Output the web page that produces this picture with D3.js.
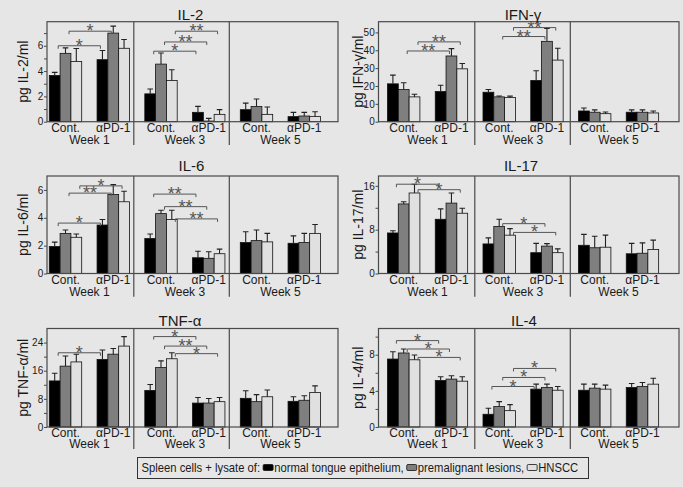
<!DOCTYPE html>
<html><head><meta charset="utf-8">
<script src="https://cdn.jsdelivr.net/npm/d3@7"></script>
<style>body{margin:0;background:#e6e6e6} svg{display:block;font-family:"Liberation Sans",Arial,sans-serif}</style>
</head><body><svg id="c" width="683" height="487"></svg>
<script>
// ---------- DATA ----------
const weeks = ["Week 1", "Week 3", "Week 5"];
const groups = ["Cont.", "αPD-1"];
const seriesNames = ["normal tongue epithelium", "premalignant lesions", "HNSCC"];
// order: W1 Cont(3), W1 αPD-1(3), W3 Cont, W3 αPD-1, W5 Cont, W5 αPD-1
const il2Mean = [3.65,5.4,4.75, 4.9,7.0,5.8, 2.2,4.55,3.25, 0.74,0.05,0.58, 0.95,1.2,0.58, 0.4,0.45,0.42];
const il2Sd   = [0.25,0.43,1.03, 0.72,0.55,0.69, 0.38,0.88,0.85, 0.47,0.21,0.37, 0.52,0.59,0.58, 0.34,0.29,0.37];
const ifnMean = [21.2,18.0,13.9, 16.9,36.8,29.6, 16.5,13.9,13.5, 23.1,45.0,34.5, 6.0,5.3,4.5, 5.3,5.3,4.9];
const ifnSd   = [4.9,3.8,1.5, 3.5,4.1,3.0, 1.5,0.5,0.8, 5.4,7.2,6.6, 1.7,1.3,0.9, 1.3,1.3,1.1];
const il6Mean = [1.94,2.88,2.6, 3.48,5.67,5.15, 2.51,4.3,3.88, 1.13,1.09,1.42, 2.22,2.36,2.27, 2.17,2.22,2.88];
const il6Sd   = [0.31,0.24,0.24, 0.4,0.71,0.76, 0.33,0.24,0.66, 0.47,0.47,0.33, 0.78,0.76,0.61, 0.53,0.66,0.64];
const il17Mean = [7.4,12.7,14.7, 9.9,12.85,11.0, 5.4,8.6,7.0, 3.8,5.0,3.8, 5.15,4.7,4.8, 3.6,3.7,4.4];
const il17Sd   = [0.4,0.4,1.6, 1.9,1.85,0.9, 1.1,1.3,1.2, 1.7,0.45,0.7, 2.0,2.1,2.2, 1.9,1.9,1.7];
const tnfMean = [13.1,17.3,18.5, 19.2,20.7,23.0, 10.4,16.9,19.4, 6.8,6.8,7.2, 8.15,7.2,8.6, 7.3,7.6,9.8];
const tnfSd   = [2.2,2.9,2.2, 2.7,1.6,2.7, 1.7,1.9,1.7, 1.6,1.3,1.2, 2.15,2.0,1.9, 1.3,1.3,1.9];
const il4Mean = [7.52,8.19,7.44, 5.15,5.3,5.07, 1.41,2.26,1.81, 4.19,4.37,4.07, 4.07,4.3,4.19, 4.37,4.48,4.74];
const il4Sd   = [0.81,0.44,0.52, 0.41,0.37,0.49, 0.66,0.55,0.67, 0.55,0.37,0.41, 0.67,0.44,0.44, 0.44,0.45,0.66];
// significance brackets: [week index, series index, y value, label]
const il2Sig  = [[0,0,6.0,"*"],[0,1,7.15,"*"],[1,0,5.57,"*"],[1,1,6.3,"**"],[1,2,7.15,"**"]];
const ifnSig  = [[0,1,39.6,"**"],[0,2,44.7,"**"],[1,1,47.7,"**"],[1,2,52.7,"**"]];
const il6Sig  = [[0,0,3.62,"*"],[0,1,5.77,"**"],[0,2,6.29,"*"],[1,0,5.7,"**"],[1,1,4.8,"**"],[1,2,3.92,"**"]];
const il17Sig = [[0,0,16.3,"*"],[0,2,15.3,"*"],[1,1,9.1,"*"],[1,2,7.5,"*"]];
const tnfSig  = [[0,0,21.1,"*"],[1,0,25.7,"*"],[1,1,23.0,"**"],[1,2,20.85,"*"]];
const il4Sig  = [[0,0,9.56,"*"],[0,1,8.63,"*"],[0,2,7.7,"*"],[1,0,4.48,"*"],[1,1,5.48,"*"],[1,2,6.48,"*"]];
// axes
const il2Ticks = [0,2,4,6],  il2Minor = [1,3,5,7];
const ifnTicks = [0,10,20,30,40,50], ifnMinor = [];
const il6Ticks = [0,2,4,6],  il6Minor = [];
const il17Ticks = [0,8,16],  il17Minor = [4,12];
const tnfTicks = [0,8,16,24], tnfMinor = [4,12,20];
const il4Ticks = [0,4,8],    il4Minor = [2,6,10];
const legendPrefix = "Spleen cells + lysate of:";
const legendLabels = ["normal tongue epithelium,", "premalignant lesions,", "HNSCC"];

const panels = [
  {name:"IL-2",  ylab:"pg IL-2/ml",   mean:il2Mean,  sd:il2Sd,  max:7.9, ticks:il2Ticks,  minor:il2Minor,  sig:il2Sig},
  {name:"IFN-γ", ylab:"pg IFN-γ/ml",  mean:ifnMean,  sd:ifnSd,  max:56,  ticks:ifnTicks,  minor:ifnMinor,  sig:ifnSig},
  {name:"IL-6",  ylab:"pg IL-6/ml",   mean:il6Mean,  sd:il6Sd,  max:7.0, ticks:il6Ticks,  minor:il6Minor,  sig:il6Sig},
  {name:"IL-17", ylab:"pg IL-17/ml",  mean:il17Mean, sd:il17Sd, max:17.8,ticks:il17Ticks, minor:il17Minor, sig:il17Sig},
  {name:"TNF-α", ylab:"pg TNF-α/ml",  mean:tnfMean,  sd:tnfSd,  max:28,  ticks:tnfTicks,  minor:tnfMinor,  sig:tnfSig},
  {name:"IL-4",  ylab:"pg IL-4/ml",   mean:il4Mean,  sd:il4Sd,  max:10.9,ticks:il4Ticks,  minor:il4Minor,  sig:il4Sig}
];

// ---------- LAYOUT ----------
const colors = ["#000000", "#7f7f7f", "#e0e0e0"];
const cols = [{x0:47, x1:338, bar0:49.3, divOff:11, labOff:19},
              {x0:378.5, x1:679, bar0:387.5, divOff:8.2, labOff:16}];
const rows = [{top:21.7, bot:121.7, titleY:19.5, weekDy:22.3},
              {top:176, bot:273.5, titleY:171, weekDy:22.3},
              {top:328.5, bot:427, titleY:325.5, weekDy:21}];
const titleX = [190.5, 523, 191.5, 521, 180, 524];
const weekStep = 95.5, groupSpan = 95.5, clusterW = 32.4;
const frameColor = "#4a4a4a", textColor = "#1a1a1a", sigColor = "#555";

const svg = d3.select("#c");
svg.append("rect").attr("width",683).attr("height",487).attr("fill","#e6e6e6");

panels.forEach((p, pi) => {
  const C = cols[pi % 2], R = rows[Math.floor(pi / 2)];
  const g = svg.append("g");
  const y = d3.scaleLinear().domain([0, p.max]).range([R.bot, R.top]);
  const xw = d3.scaleBand().domain(weeks).range([C.bar0, C.bar0 + 3 * weekStep]);
  const xg = d3.scaleBand().domain(groups).range([0, groupSpan]);
  const xs = d3.scaleBand().domain(seriesNames).range([0, clusterW]);
  const bw = xs.bandwidth();

  const recs = [];
  weeks.forEach((w, wi) => groups.forEach((gr, gi) => seriesNames.forEach((s, si) => {
    const k = wi * 6 + gi * 3 + si;
    recs.push({w, gr, s, si, v: p.mean[k], e: p.sd[k]});
  })));
  const bx = d => xw(d.w) + xg(d.gr) + xs(d.s);

  // dividers (extend down through the category labels)
  g.selectAll("line.div").data(weeks.slice(1)).join("line")
    .attr("x1", d => xw(d) - C.divOff).attr("x2", d => xw(d) - C.divOff)
    .attr("y1", R.top).attr("y2", R.bot + R.weekDy + 1)
    .attr("stroke", frameColor).attr("stroke-width", 1.2);

  // bars
  g.selectAll("rect.bar").data(recs).join("rect")
    .attr("x", bx).attr("width", bw)
    .attr("y", d => y(d.v)).attr("height", d => y(0) - y(d.v))
    .attr("fill", d => colors[d.si]).attr("stroke", "#111").attr("stroke-width", 0.8);

  // error bars
  g.selectAll("path.err").data(recs).join("path")
    .attr("d", d => {
      const cx = bx(d) + bw / 2, yt = y(d.v + d.e);
      return `M${cx},${y(d.v)}V${yt}M${cx - 2.8},${yt}H${cx + 2.8}`;
    })
    .attr("fill", "none").attr("stroke", "#222").attr("stroke-width", 1.1);

  // significance brackets
  const sg = g.selectAll("g.sig").data(p.sig).join("g");
  const bxs = d => {
    const w = weeks[d[0]], s = seriesNames[d[1]];
    return [xw(w) + xg(groups[0]) + xs(s) + bw / 2 + 3.5, xw(w) + xg(groups[1]) + xs(s) + bw / 2 - 2];
  };
  sg.append("path")
    .attr("d", d => { const [a, b] = bxs(d), yy = y(d[2]); return `M${a},${yy + 3}V${yy}H${b}V${yy + 3}`; })
    .attr("fill", "none").attr("stroke", sigColor).attr("stroke-width", 1);
  sg.append("text")
    .attr("x", d => { const [a, b] = bxs(d); return (a + b) / 2; })
    .attr("y", d => y(d[2]) + 6)
    .attr("text-anchor", "middle").attr("font-size", 18).attr("fill", sigColor)
    .text(d => d[3]);

  // frame
  g.append("rect").attr("x", C.x0).attr("y", R.top).attr("width", C.x1 - C.x0).attr("height", R.bot - R.top)
    .attr("fill", "none").attr("stroke", frameColor).attr("stroke-width", 1.2);

  // y axis
  const ax = g.append("g").attr("transform", `translate(${C.x0},0)`)
    .call(d3.axisLeft(y).tickValues(p.ticks).tickSize(3).tickPadding(0.8).tickFormat(d3.format("d")));
  ax.select(".domain").remove();
  ax.selectAll("line").attr("stroke", frameColor);
  ax.selectAll("text").attr("font-size", 10).attr("fill", textColor).style("font-family", '"Liberation Sans",Arial,sans-serif');
  if (p.minor.length) {
    const am = g.append("g").attr("transform", `translate(${C.x0},0)`)
      .call(d3.axisLeft(y).tickValues(p.minor).tickSize(3).tickFormat(""));
    am.select(".domain").remove();
    am.selectAll("line").attr("stroke", frameColor);
  }

  // y label
  g.append("text")
    .attr("transform", `translate(${C.x0 - C.labOff},${(R.top + R.bot) / 2}) rotate(-90)`)
    .attr("text-anchor", "middle").attr("font-size", 14).attr("fill", textColor)
    .text(p.ylab);

  // title
  g.append("text").attr("x", titleX[pi]).attr("y", R.titleY).attr("text-anchor", "middle")
    .attr("font-size", 15).attr("fill", textColor).text(p.name);

  // group labels
  const gl = [];
  weeks.forEach(w => groups.forEach(gr => gl.push({w, gr})));
  g.selectAll("text.grp").data(gl).join("text")
    .attr("x", d => xw(d.w) + xg(d.gr) + clusterW / 2).attr("y", R.bot + 10.3)
    .attr("text-anchor", "middle").attr("font-size", 12).attr("fill", textColor)
    .text(d => d.gr);
  g.selectAll("text.wk").data(weeks).join("text")
    .attr("x", d => xw(d) + (xg(groups[1]) + clusterW) / 2).attr("y", R.bot + R.weekDy)
    .attr("text-anchor", "middle").attr("font-size", 12).attr("fill", textColor)
    .text(d => d);
});

// ---------- LEGEND ----------
const lg = svg.append("g");
lg.append("rect").attr("x", 137.5).attr("y", 457.5).attr("width", 451).attr("height", 21)
  .attr("fill", "none").attr("stroke", "#333").attr("stroke-width", 1);
let cx = 141.5;
const squeeze = 0.88, ly = 471.8;
function addText(t) {
  const el = lg.append("text").attr("x", cx).attr("y", ly).attr("font-size", 12.8).attr("fill", textColor).text(t);
  const w = el.node().getComputedTextLength() * squeeze;
  el.attr("textLength", w).attr("lengthAdjust", "spacingAndGlyphs");
  cx += w;
}
addText(legendPrefix);
cx += 3;
legendLabels.forEach((t, i) => {
  lg.append("rect").attr("x", cx).attr("y", 464.5).attr("width", 10).attr("height", 6)
    .attr("rx", 1.2).attr("fill", colors[i]).attr("stroke", "#111").attr("stroke-width", 0.8);
  cx += 11;
  addText(t);
  cx += 3;
});
</script>
</body></html>
